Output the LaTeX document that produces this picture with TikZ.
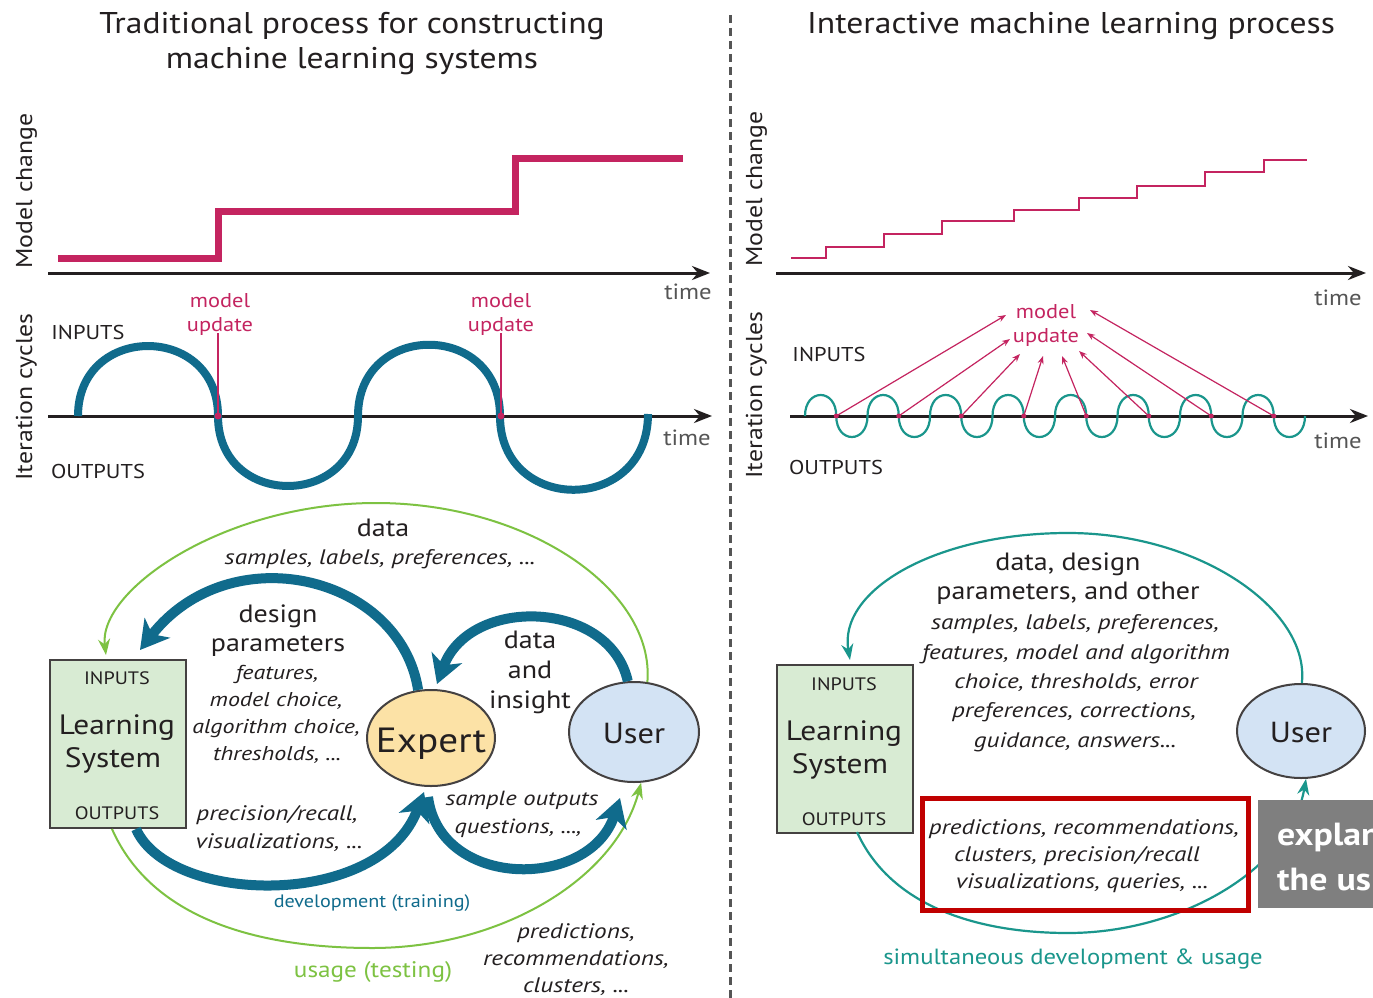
\documentclass[tikz,border=0pt]{standalone}
\usepackage{fontspec}
\setmainfont{PT Sans}[
  UprightFeatures={FakeStretch=1.12},
  BoldFeatures={FakeStretch=1.12},
  ItalicFeatures={FakeStretch=1.2}]
\usetikzlibrary{arrows.meta,shapes.geometric}

\definecolor{inkc}{RGB}{35,31,32}
\definecolor{crim}{RGB}{196,36,96}
\definecolor{flowblue}{RGB}{16,107,140}
\definecolor{usegreen}{RGB}{125,194,66}
\definecolor{simteal}{RGB}{26,150,140}
\definecolor{timegray}{RGB}{85,85,85}
\definecolor{boxgreen}{RGB}{216,235,211}
\definecolor{expfill}{RGB}{252,226,166}
\definecolor{userfill}{RGB}{211,227,244}
\definecolor{hilite}{RGB}{192,0,0}
\definecolor{tagfill}{RGB}{127,127,127}

\newcommand\fsz[1]{\fontsize{#1}{#1}\selectfont}

\tikzset{
  % text box sized from the font size, so that the node centre sits 0.4em above the baseline
  txtbox/.style={text height={0.85*#1pt}, text depth={0.05*#1pt}},
  lab/.style={inner sep=0pt, txtbox=#1, text=inkc, font=\fsz{#1}},
  labi/.style={lab=#1, font=\fsz{#1}\itshape},
  axis/.style={draw=inkc, line width=3pt, -{Stealth[length=18pt,width=14pt]}},
  bigflow/.style={draw=flowblue, line width=10pt, -{Stealth[length=28pt,width=32pt,inset=8pt]}},
  greenflow/.style={draw=usegreen, line width=2pt, -{Stealth[length=16pt,width=12pt]}},
  tealflow/.style={draw=simteal, line width=2.2pt, -{Stealth[length=16pt,width=12pt]}},
  updarrow/.style={draw=crim, line width=1.2pt, -{Stealth[length=8pt,width=6pt]}},
  lsbox/.style={draw=inkc!85, line width=2pt, fill=boxgreen, minimum width=136pt, minimum height=168pt, inner sep=0pt},
  blob/.style={ellipse, draw=inkc!85, line width=2pt, inner sep=0pt},
  tagtext/.style={inner sep=0pt, anchor=west, text=white, font=\fsz{32}\bfseries, txtbox=32},
}

\begin{document}
\begin{tikzpicture}[x=1pt, y=-1pt]
\useasboundingbox (0,0) rectangle (1373,998);
\fill[white] (0,0) rectangle (1373,998);

% column divider
\coordinate (divtop) at (730,15);
\coordinate (divbot) at (730,998);
\draw[timegray, line width=3pt, dash pattern=on 8pt off 5pt] (divtop) -- (divbot);

% ---------------- titles ----------------
\node[lab=30] (titleA1) at (352,22) {Traditional process for constructing};
\node[lab=30] (titleA2) at (352,57) {machine learning systems};
\node[lab=30] (titleB) at (1071,22) {Interactive machine learning process};

% ---------------- left: model change ----------------
\node[lab=23, rotate=90] (mcA) at (23,191) {Model change};
\coordinate (axA0) at (48,273);
\coordinate (axA1) at (710,273);
\draw[axis] (axA0) -- (axA1);
\node[lab=22, text=timegray] (timeA1) at (688,291) {time};
\draw[crim, line width=7pt] (58,258) -- (218,258) -- (218,211) -- (515,211) -- (515,158) -- (683,158);

% ---------------- left: iteration cycles ----------------
\node[lab=23, rotate=90] (icA) at (23,397) {Iteration cycles};
\node[lab=20] (inA) at (88,331) {INPUTS};
\node[lab=20] (outA) at (98,470) {OUTPUTS};
\coordinate (axB0) at (48,416);
\coordinate (axB1) at (712,416);
\draw[axis] (axB0) -- (axB1);
\node[lab=22, text=timegray] (timeA2) at (687,437) {time};
\draw[flowblue, line width=8pt]
  (78,416) .. controls (78,322.7) and (218,322.7) .. (218,416)
           .. controls (218,509.3) and (358,509.3) .. (358,416)
           .. controls (358,321) and (500,321) .. (500,416)
           .. controls (500,514.7) and (648,514.7) .. (648,414);
\node[lab=20, text=crim] (muA1) at (220,299) {model};
\node[lab=20, text=crim] (muA2) at (220,323) {update};
\node[lab=20, text=crim] (muB1) at (501,299) {model};
\node[lab=20, text=crim] (muB2) at (501,323) {update};
\coordinate (updA) at (218,416);
\coordinate (updB) at (501,416);
\draw[crim, line width=2pt] (218,333) -- (updA);
\draw[crim, line width=2pt] (501,333) -- (updB);
\fill[crim] (updA) circle[radius=3.5];
\fill[crim] (updB) circle[radius=3.5];

% ---------------- right: model change ----------------
\node[lab=23, rotate=90] (mcB) at (753,189) {Model change};
\coordinate (axC0) at (776,273);
\coordinate (axC1) at (1366,273);
\draw[axis] (axC0) -- (axC1);
\node[lab=22, text=timegray] (timeB1) at (1338,297) {time};
\draw[crim, line width=2.5pt] (791,258) -| (826,247) -| (884,234) -| (942,221) -| (1014,210)
   -| (1079,198) -| (1137,186) -| (1205,172) -| (1264,160) -- (1307,160);

% ---------------- right: iteration cycles ----------------
\node[lab=23, rotate=90] (icB) at (753,395) {Iteration cycles};
\node[lab=20] (inB) at (829,353) {INPUTS};
\node[lab=20] (outB) at (836,466) {OUTPUTS};
\coordinate (axD0) at (790,416);
\coordinate (axD1) at (1368,416);
\draw[axis] (axD0) -- (axD1);
\node[lab=22, text=timegray] (timeB2) at (1338,440) {time};
\draw[simteal, line width=2.2pt] (805,416)
  \foreach \i [evaluate=\i as \xa using 805+31.25*\i,
               evaluate=\i as \xb using 836.25+31.25*\i,
               evaluate=\i as \yc using {416+28*(2*mod(\i,2)-1)}] in {0,...,15}
  { .. controls (\xa,\yc) and (\xb,\yc) .. (\xb,416) };
\node[lab=20, text=crim] (muC1) at (1046,310) {model};
\node[lab=20, text=crim] (muC2) at (1046,334) {update};
\foreach \k/\tx/\ty in {0/1006/315, 1/1010/339, 2/1020/354, 3/1043/356,
                        4/1062/356, 5/1079/351, 6/1087/333, 7/1090/310} {
  \coordinate (dot\k) at ({836.25+62.5*\k},416);
  \coordinate (tgt\k) at (\tx,\ty);
  \draw[updarrow] (dot\k) -- (tgt\k);
  \fill[crim] (dot\k) circle[radius=2.5];
}

% ---------------- left: traditional loop ----------------
\node[lsbox] (ls) at (118,744) {};
\node[lab=18] (lsIn) at (117,677) {INPUTS};
\node[lab=28] (lsL1) at (117,723) {Learning};
\node[lab=28] (lsL2) at (113,756) {System};
\node[lab=18] (lsOut) at (117,812) {OUTPUTS};

\node[blob, fill=expfill, minimum width=128pt, minimum height=96pt] (expert) at (431,738) {};
\node[lab=35] (expertTxt) at (expert.center) {Expert};
\node[blob, fill=userfill, minimum width=130pt, minimum height=100pt] (user) at (634,732) {};
\node[lab=29] (userTxt) at (user.center) {User};

% usage loop (green)
\coordinate (gTop) at (376,503);
\coordinate (gBot) at (372,948);
\coordinate (gLsIn) at (106,655);
\coordinate (gLsOut) at (112,829);
\draw[greenflow] (user.75) .. controls (655,590) and (528,503) .. (gTop)
                 .. controls (224,503) and (98,590) .. (gLsIn);
\draw[greenflow] (gLsOut) .. controls (150,915) and (250,948) .. (gBot)
                 .. controls (500,948) and (615,880) .. (user.-82);

% development loop (blue)
\coordinate (lsDesignIn) at (140,650);
\coordinate (expDataIn) at (437,684);
\coordinate (lsOutStart) at (136,829);
\coordinate (expOutIn) at (424,792);
\coordinate (expOutStart) at (428,797);
\coordinate (userIn) at (620,798);
\draw[bigflow] (expert.105) .. controls (400,575) and (230,535) .. (lsDesignIn);
\draw[bigflow] (user.97) .. controls (610,600) and (470,595) .. (expDataIn);
\draw[bigflow] (lsOutStart) .. controls (170,905) and (380,910) .. (expOutIn);
\draw[bigflow] (expOutStart) .. controls (440,890) and (590,890) .. (userIn);

\node[lab=25] (dataA) at (383,526) {data};
\node[labi=21] (sampA) at (380,556) {samples, labels, preferences, ...};
\node[lab=25] (desA1) at (278,612) {design};
\node[lab=25] (desA2) at (278,641) {parameters};
\node[labi=20] (desA3) at (277,671) {features,};
\node[labi=20] (desA4) at (276,698) {model choice,};
\node[labi=20] (desA5) at (276,725) {algorithm choice,};
\node[labi=20] (desA6) at (277,752) {thresholds, ...};
\node[lab=25] (diA1) at (530,638) {data};
\node[lab=25] (diA2) at (530,668) {and};
\node[lab=25] (diA3) at (530,698) {insight};
\node[labi=21] (prA1) at (277,812) {precision/recall,};
\node[labi=21] (prA2) at (279,840) {visualizations, ...};
\node[labi=20.5] (soA1) at (522,797) {sample outputs};
\node[labi=20.5] (soA2) at (518,825) {questions, ...,};
\node[lab=18] [text=flowblue] (devA) at (372,900) {development (training)};
\node[lab=22.5] [text=usegreen] (useA) at (373,968) {usage (testing)};
\node[labi=21] (predA1) at (576,930) {predictions,};
\node[labi=21] (predA2) at (576,957) {recommendations,};
\node[labi=21] (predA3) at (576,984) {clusters, ...};

% ---------------- right: interactive loop ----------------
\node[lsbox] (ls2) at (845,749) {};
\node[lab=18] (ls2In) at (844,683) {INPUTS};
\node[lab=28] (ls2L1) at (844,729) {Learning};
\node[lab=28] (ls2L2) at (840,762) {System};
\node[lab=18] (ls2Out) at (844,818) {OUTPUTS};

\node[blob, fill=userfill, minimum width=128pt, minimum height=94pt] (user2) at (1301,731) {};
\node[lab=29] (user2Txt) at (user2.center) {User};

\coordinate (tTop) at (1068,533);
\coordinate (tBot) at (1068,933);
\coordinate (tLsIn) at (850,660);
\coordinate (tLsOut) at (857,832);
\draw[tealflow] (user2.89) .. controls (1310,610) and (1200,533) .. (tTop)
                .. controls (936,533) and (838,590) .. (tLsIn);
\draw[tealflow] (tLsOut) .. controls (890,905) and (975,933) .. (tBot)
                .. controls (1180,933) and (1290,870) .. (user2.-84);

\node[lab=25] (dB1) at (1068,560) {data, design};
\node[lab=25] (dB2) at (1068,589) {parameters, and other};
\node[labi=21] (dB3) at (1075,621) {samples, labels, preferences,};
\node[labi=21] (dB4) at (1076,651) {features, model and algorithm};
\node[labi=21] (dB5) at (1076,680) {choice, thresholds, error};
\node[labi=21] (dB6) at (1074,709) {preferences, corrections,};
\node[labi=21] (dB7) at (1075,739) {guidance, answers...};

\node[draw=hilite, line width=5pt, minimum width=326pt, minimum height=112pt, inner sep=0pt] (redbox) at (1085,854) {};
\node[labi=21] (oB1) at (1084,826) {predictions, recommendations,};
\node[labi=21] (oB2) at (1077,853) {clusters, precision/recall};
\node[labi=21] (oB3) at (1082,880) {visualizations, queries, ...};

\node[lab=22] [text=simteal] (simB) at (1073,956) {simultaneous development \& usage};

% grey tag running off the right edge
\node[fill=tagfill, minimum width=115pt, minimum height=108pt, inner sep=0pt, anchor=north west] (tag) at (1258,800) {};
\begin{scope}
  \clip (1258,800) rectangle (1373,908);
  \node[tagtext] (tag1) at (1277,833) {explan};
  \node[tagtext] (tag2) at (1277,878) {the us};
\end{scope}

\end{tikzpicture}
\end{document}
